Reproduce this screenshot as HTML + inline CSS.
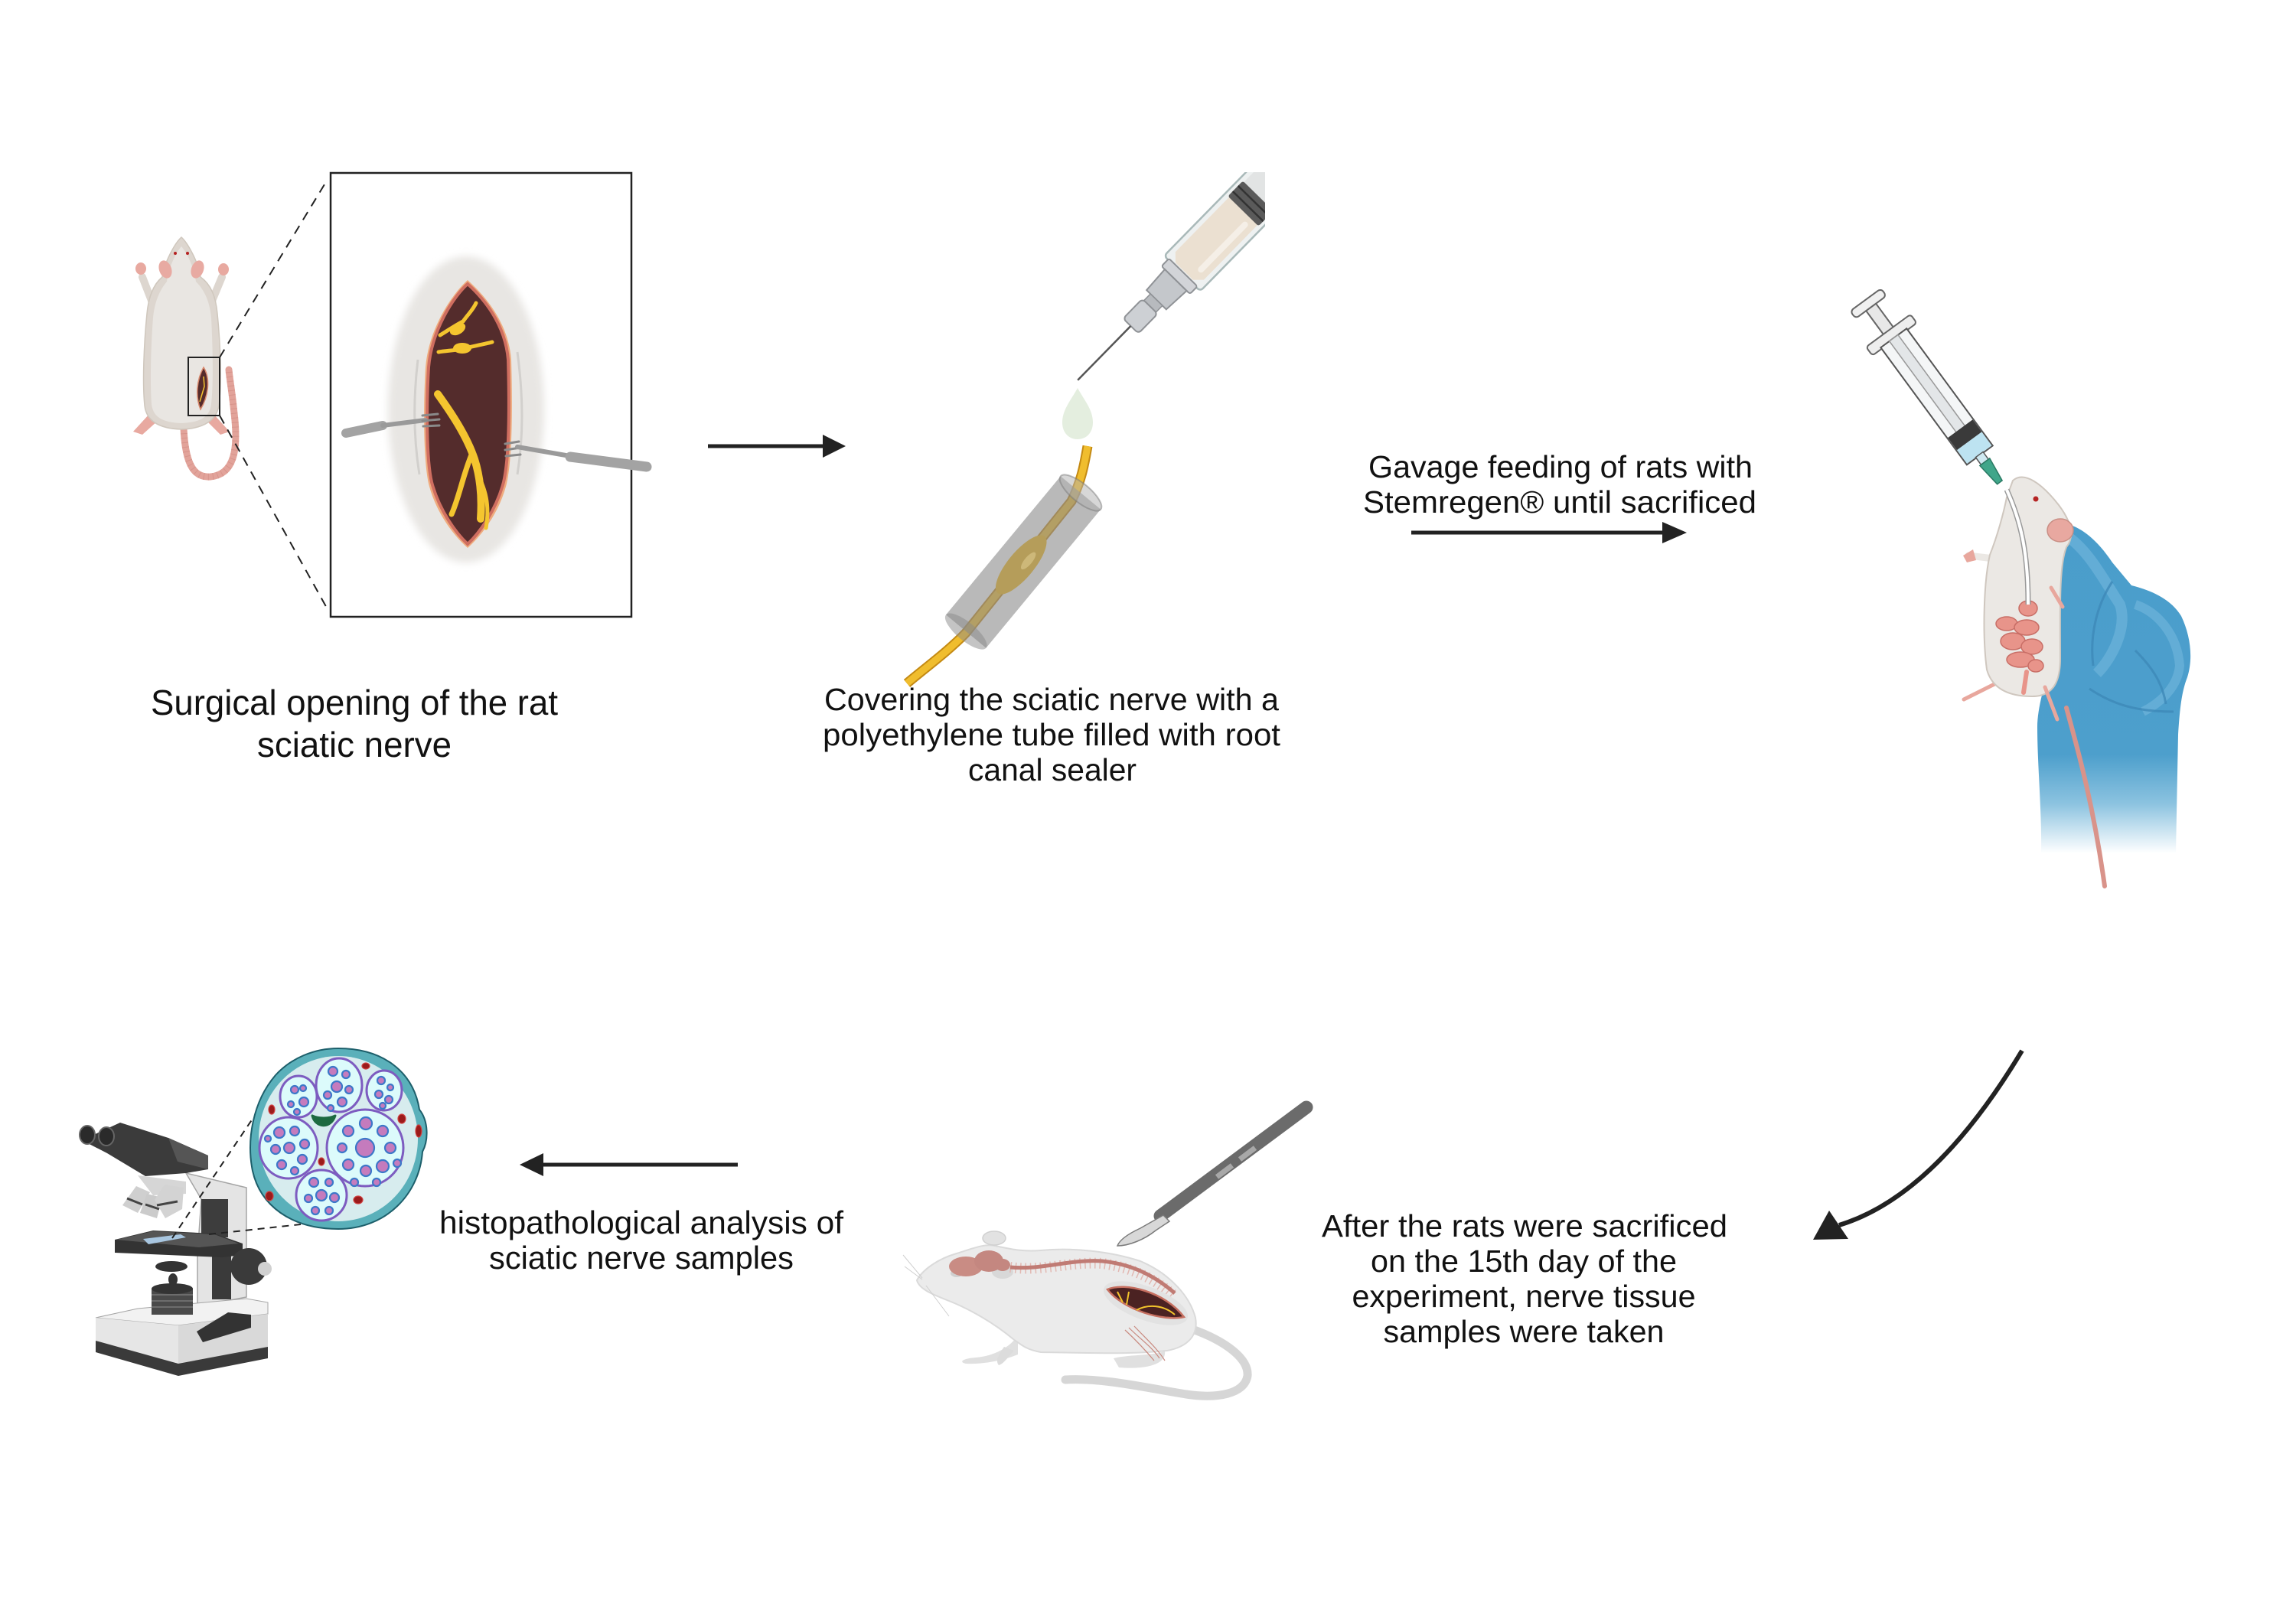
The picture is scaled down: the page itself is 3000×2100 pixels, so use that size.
<!DOCTYPE html>
<html><head><meta charset="utf-8">
<style>html,body{margin:0;padding:0;background:#fff}svg{display:block}</style>
</head><body>
<svg width="3000" height="2100" viewBox="0 0 3000 2100" xmlns="http://www.w3.org/2000/svg" font-family="'Liberation Sans', Arial, sans-serif">
<defs>
  <filter id="blur4" x="-20%" y="-20%" width="140%" height="140%"><feGaussianBlur stdDeviation="5"/></filter>
  <clipPath id="clipSyr"><rect x="0" y="225" width="1653" height="1900"/></clipPath>
  <linearGradient id="glove" x1="0" y1="685" x2="0" y2="1115" gradientUnits="userSpaceOnUse">
    <stop offset="0" stop-color="#4a9dcb"/>
    <stop offset="0.7" stop-color="#4d9fcc"/>
    <stop offset="0.85" stop-color="#8cc3e0"/>
    <stop offset="1" stop-color="#ffffff"/>
  </linearGradient>
</defs>
<rect width="3000" height="2100" fill="#fff"/>

<!-- ===== Panel 1: dorsal rat ===== -->
<g>
  <path d="M240,560 C242,600 250,625 275,623 C305,620 312,590 306,540 C303,510 300,495 299,483" fill="none" stroke="#e2a39a" stroke-width="9" stroke-linecap="round"/>
  <path d="M240,560 C242,600 250,625 275,623 C305,620 312,590 306,540 C303,510 300,495 299,483" fill="none" stroke="#d08a82" stroke-width="9" stroke-dasharray="1 5" opacity="0.6"/>
  <path d="M200,398 L186,362" stroke="#ddd6cf" stroke-width="10" stroke-linecap="round"/>
  <path d="M275,398 L290,362" stroke="#ddd6cf" stroke-width="10" stroke-linecap="round"/>
  <ellipse cx="184" cy="351" rx="7" ry="8" fill="#e8a9a0"/>
  <ellipse cx="292" cy="352" rx="7" ry="8" fill="#e8a9a0"/>
  <path d="M196,540 L174,564 L186,568 L206,550 Z" fill="#e8a9a0"/>
  <path d="M278,540 L300,564 L288,568 L270,550 Z" fill="#e8a9a0"/>
  <path d="M237,310 C228,318 214,345 212,362 C200,372 194,388 192,410 C188,450 186,500 189,530 C191,548 205,560 237,561 C268,560 283,548 286,530 C290,500 288,450 284,410 C282,388 276,372 262,362 C260,345 246,318 237,310 Z" fill="#ddd6cf" stroke="#cfc7bd" stroke-width="1.5"/>
  <path d="M237,322 C230,330 220,350 218,368 C208,380 202,395 200,415 C197,455 196,500 198,528 C200,545 212,552 237,553 C262,552 274,545 276,528 C279,500 278,455 276,415 C274,395 268,380 256,368 C254,350 244,330 237,322 Z" fill="#e9e6e2"/>
  <ellipse cx="216" cy="352" rx="8" ry="12" fill="#e8aaa2" transform="rotate(-20 216 352)"/>
  <ellipse cx="258" cy="352" rx="8" ry="12" fill="#e8aaa2" transform="rotate(20 258 352)"/>
  <circle cx="229" cy="331" r="2" fill="#b52020"/>
  <circle cx="245" cy="331" r="2" fill="#b52020"/>
  <path d="M266,480 C274,492 274,515 262,535 C255,518 257,496 266,480 Z" fill="#552b2b" stroke="#d98a6e" stroke-width="1.5"/>
  <path d="M266,492 L267,505 L261,525" stroke="#f4c52f" stroke-width="1.5" fill="none"/>
  <rect x="246" y="467" width="41" height="76" fill="none" stroke="#222" stroke-width="2"/>
</g>
<path d="M287,467 L427,236" stroke="#222" stroke-width="2" stroke-dasharray="12 9"/>
<path d="M287,543 L429,798" stroke="#222" stroke-width="2" stroke-dasharray="12 9"/>
<rect x="432" y="226" width="393" height="580" fill="#fff" stroke="#222" stroke-width="2.5"/>

<!-- wound -->
<ellipse cx="609" cy="535" rx="102" ry="200" fill="#e8e6e3" filter="url(#blur4)"/>
<path d="M546,470 C540,520 540,570 548,620" stroke="#d2d0cd" stroke-width="3" fill="none"/>
<path d="M676,460 C684,520 684,570 676,620" stroke="#d2d0cd" stroke-width="3" fill="none"/>
<path d="M611,366 C632,385 664,420 668,470 C670,540 669,600 662,632 C652,672 627,702 611,716 C595,702 570,672 560,632 C553,600 553,530 556,480 C560,430 590,385 611,366 Z" fill="#efab7e"/>
<path d="M611,371 C630,388 660,422 664,470 C666,540 665,600 658,630 C648,668 625,698 611,711 C597,698 574,668 564,630 C557,600 557,530 560,480 C564,432 592,388 611,371 Z" fill="#542c2c" stroke="#cf6e60" stroke-width="4"/>
<g stroke="#f4c52f" fill="none" stroke-linecap="round">
  <path d="M572,515 C590,540 610,570 620,600 C628,625 630,650 628,678" stroke-width="10"/>
  <path d="M617,592 C605,620 600,650 590,672" stroke-width="7"/>
  <path d="M622,615 C635,640 640,660 635,690" stroke-width="5"/>
  <path d="M575,438 C585,432 595,425 605,420 C612,410 618,405 622,396" stroke-width="5"/>
  <path d="M573,460 C585,458 597,458 607,455 C620,452 632,450 643,447" stroke-width="5"/>
</g>
<ellipse cx="598" cy="430" rx="11" ry="7" fill="#f4c52f" transform="rotate(-30 598 430)"/>
<ellipse cx="604" cy="455" rx="12" ry="7" fill="#f4c52f"/>
<!-- retractors -->
<g stroke-linecap="round" fill="none">
  <path d="M452,566 L500,556" stroke="#a3a3a3" stroke-width="12"/>
  <path d="M500,556 L556,549" stroke="#9a9a9a" stroke-width="6"/>
  <path d="M552,543 L572,541 M552,550 L574,548 M553,557 L574,556" stroke="#8a8a8a" stroke-width="3"/>
  <path d="M660,580 L678,577 M660,588 L680,585 M661,596 L680,594" stroke="#8a8a8a" stroke-width="3"/>
  <path d="M676,584 L745,596" stroke="#9a9a9a" stroke-width="6"/>
  <path d="M745,597 L845,610" stroke="#a3a3a3" stroke-width="13"/>
</g>

<!-- arrow 1 -->
<line x1="925" y1="583" x2="1078" y2="583" stroke="#222" stroke-width="5"/>
<polygon points="1075,568 1105,583 1075,598" fill="#222"/>

<text x="463" y="934" font-size="46" fill="#111" text-anchor="middle" textLength="532" lengthAdjust="spacingAndGlyphs">Surgical opening of the rat</text>
<text x="463" y="989" font-size="46" fill="#111" text-anchor="middle" textLength="254" lengthAdjust="spacingAndGlyphs">sciatic nerve</text>

<!-- ===== Panel 2: syringe + tube ===== -->
<g clip-path="url(#clipSyr)">
  <g transform="translate(1546,356) rotate(134.4)">
    <rect x="-320" y="-33" width="322" height="66" rx="5" fill="#eef1f1" stroke="#a9b9b9" stroke-width="2.5"/>
    <rect x="-320" y="-26" width="182" height="52" fill="#e2e4e4"/>
    <path d="M-113,-26 L-12,-26 L-2,-16 L-2,16 L-12,26 L-113,26 Z" fill="#ebe0d1"/>
    <rect x="-105" y="-18" width="90" height="8" rx="4" fill="#f5efe7"/>
    <rect x="-140" y="-28" width="28" height="56" rx="3" fill="#5a5a5a"/>
    <line x1="-131" y1="-28" x2="-131" y2="28" stroke="#333" stroke-width="2.5"/>
    <line x1="-121" y1="-28" x2="-121" y2="28" stroke="#333" stroke-width="2.5"/>
    <rect x="0" y="-26" width="14" height="52" rx="3" fill="#d2d4d8" stroke="#8f9296" stroke-width="2"/>
    <path d="M14,-20 L50,-18 L50,18 L14,20 Z" fill="#c4c7cb" stroke="#8f9296" stroke-width="2"/>
    <rect x="50" y="-11" width="12" height="22" fill="#b7babe" stroke="#8f9296" stroke-width="1.5"/>
    <rect x="62" y="-14" width="36" height="28" rx="5" fill="#cdd0d4" stroke="#8f9296" stroke-width="2"/>
    <line x1="98" y1="0" x2="197" y2="0" stroke="#555" stroke-width="2.5"/>
  </g>
</g>
<path d="M1408,507 C1400,522 1388,535 1388,552 C1388,566 1397,574 1408,574 C1419,574 1428,566 1428,552 C1428,535 1416,522 1408,507 Z" fill="#e4eedf"/>
<path d="M1421,583 C1416,612 1412,630 1400,655 L1262,827 C1240,850 1210,872 1185,893" stroke="#c48a14" stroke-width="13" fill="none"/>
<path d="M1421,583 C1416,612 1412,630 1400,655 L1262,827 C1240,850 1210,872 1185,893" stroke="#f0bd2e" stroke-width="9" fill="none"/>
<g transform="translate(1412,644) rotate(129.6)">
  <rect x="0" y="-34" width="235" height="68" fill="#8a8a8a" fill-opacity="0.6"/>
  <ellipse cx="122" cy="0" rx="48" ry="17" fill="#b59d5a"/>
  <ellipse cx="112" cy="-4" rx="14" ry="5" fill="#cdb879"/>
  <ellipse cx="0" cy="0" rx="12" ry="34" fill="#b0b0b0" fill-opacity="0.5" stroke="#7a7a7a" stroke-opacity="0.5" stroke-width="2"/>
  <ellipse cx="235" cy="0" rx="12" ry="34" fill="#8a8a8a" fill-opacity="0.5"/>
</g>
<text x="1374" y="928" font-size="41" fill="#111" text-anchor="middle" textLength="594" lengthAdjust="spacingAndGlyphs">Covering the sciatic nerve with a</text>
<text x="1374" y="974" font-size="41" fill="#111" text-anchor="middle" textLength="598" lengthAdjust="spacingAndGlyphs">polyethylene tube filled with root</text>
<text x="1375" y="1020" font-size="41" fill="#111" text-anchor="middle" textLength="220" lengthAdjust="spacingAndGlyphs">canal sealer</text>

<!-- ===== Gavage text + arrow ===== -->
<text x="2039" y="624" font-size="41" fill="#111" text-anchor="middle" textLength="502" lengthAdjust="spacingAndGlyphs">Gavage feeding of rats with</text>
<text x="2038" y="670" font-size="41" fill="#111" text-anchor="middle" textLength="514" lengthAdjust="spacingAndGlyphs">Stemregen® until sacrificed</text>
<line x1="1844" y1="696" x2="2175" y2="696" stroke="#222" stroke-width="5"/>
<polygon points="2172,682 2204,696 2172,710" fill="#222"/>

<!-- ===== Gavage figure ===== -->
<path d="M2702,685 C2720,690 2740,705 2760,735 L2785,765 C2805,770 2835,780 2850,805 C2862,830 2866,860 2858,885 C2850,905 2848,930 2846,960 L2843,1115 L2667,1115 C2668,1060 2662,1000 2662,950 C2662,920 2676,880 2686,845 C2680,810 2676,790 2676,760 C2676,730 2682,700 2702,685 Z" fill="url(#glove)"/>
<path d="M2700,700 C2730,720 2750,760 2770,790 C2780,820 2760,860 2740,880" fill="none" stroke="#6db3da" stroke-width="14" opacity="0.7"/>
<path d="M2790,790 C2820,800 2845,830 2848,870 C2845,900 2820,920 2800,930" fill="none" stroke="#6db3da" stroke-width="12" opacity="0.7"/>
<path d="M2760,760 C2740,790 2730,830 2735,870 M2790,850 C2810,870 2825,890 2830,920 M2730,900 C2760,920 2790,930 2840,930" fill="none" stroke="#3d88b8" stroke-width="3" opacity="0.8"/>
<path d="M2700,925 C2715,980 2735,1050 2750,1158" stroke="#d9938a" stroke-width="6" fill="none" stroke-linecap="round"/>
<path d="M2605,730 L2572,726" stroke="#ebe8e4" stroke-width="9" stroke-linecap="round"/>
<path d="M2578,718 L2565,726 L2570,735 L2582,732 Z" fill="#e8a79d"/>
<path d="M2608,893 L2566,914" stroke="#e8a79d" stroke-width="5" stroke-linecap="round"/>
<path d="M2630,628 C2645,615 2668,632 2690,660 C2705,680 2712,700 2700,715 C2690,740 2692,800 2692,860 C2692,895 2680,910 2655,910 C2625,910 2603,900 2596,875 C2590,830 2592,760 2600,725 C2610,700 2618,670 2622,650 Z" fill="#ebe8e4" stroke="#cfc7bf" stroke-width="2"/>
<ellipse cx="2692" cy="693" rx="17" ry="15" fill="#e8a8a0" stroke="#c98f85" stroke-width="1.5"/>
<circle cx="2660" cy="652" r="3.5" fill="#b52323"/>
<path d="M2680,768 L2695,793" stroke="#e8a79d" stroke-width="5" stroke-linecap="round"/>
<path d="M2672,898 L2688,940" stroke="#e8a79d" stroke-width="5" stroke-linecap="round"/>
<g fill="#e8948a" stroke="#c86e66" stroke-width="1.5">
  <ellipse cx="2650" cy="795" rx="12" ry="10"/>
  <ellipse cx="2622" cy="815" rx="14" ry="9"/>
  <ellipse cx="2648" cy="820" rx="16" ry="10"/>
  <ellipse cx="2630" cy="838" rx="16" ry="11"/>
  <ellipse cx="2655" cy="845" rx="14" ry="10"/>
  <ellipse cx="2640" cy="862" rx="18" ry="10"/>
  <ellipse cx="2660" cy="870" rx="10" ry="8"/>
</g>
<path d="M2648,878 L2644,905" stroke="#e8948a" stroke-width="6" stroke-linecap="round"/>
<path d="M2622,640 C2640,680 2650,720 2650,790" stroke="#999" stroke-width="7" fill="none"/>
<path d="M2622,640 C2640,680 2650,720 2650,790" stroke="#fff" stroke-width="4" fill="none"/>
<g transform="translate(2440,395) rotate(53.7)">
  <rect x="-4" y="-25" width="12" height="50" rx="5" fill="#f0f0f0" stroke="#666" stroke-width="2"/>
  <rect x="8" y="-8" width="40" height="16" fill="#e8e8e8" stroke="#666" stroke-width="2"/>
  <rect x="46" y="-36" width="14" height="72" rx="4" fill="#eee" stroke="#666" stroke-width="2"/>
  <rect x="58" y="-21" width="190" height="42" fill="#f4f6f7" stroke="#555" stroke-width="2"/>
  <rect x="58" y="-7" width="150" height="14" fill="#e3e6e8" stroke="#999" stroke-width="1.5"/>
  <rect x="205" y="-20" width="20" height="40" fill="#3a3a3a"/>
  <rect x="225" y="-20" width="22" height="40" fill="#bde3f1"/>
  <rect x="247" y="-6" width="12" height="12" fill="#cfe9f1" stroke="#555" stroke-width="1.5"/>
  <path d="M259,-8 L292,-4 L292,4 L259,8 Z" fill="#40a68a" stroke="#2a7a64" stroke-width="1.5"/>
</g>

<!-- ===== Curved arrow ===== -->
<path d="M2642,1373 Q2528,1563 2403,1601" stroke="#222" stroke-width="6" fill="none"/>
<polygon points="2369,1620 2390,1582 2415,1619" fill="#222"/>

<text x="1992" y="1616" font-size="41" fill="#111" text-anchor="middle" textLength="530" lengthAdjust="spacingAndGlyphs">After the rats were sacrificed</text>
<text x="1991" y="1662" font-size="41" fill="#111" text-anchor="middle" textLength="400" lengthAdjust="spacingAndGlyphs">on the 15th day of the</text>
<text x="1991" y="1708" font-size="41" fill="#111" text-anchor="middle" textLength="449" lengthAdjust="spacingAndGlyphs">experiment, nerve tissue</text>
<text x="1991" y="1754" font-size="41" fill="#111" text-anchor="middle" textLength="367" lengthAdjust="spacingAndGlyphs">samples were taken</text>

<!-- ===== Lateral rat + scalpel ===== -->
<path d="M1558,1737 C1600,1752 1632,1775 1630,1798 C1626,1822 1590,1828 1550,1822 C1500,1814 1440,1800 1392,1803" stroke="#d6d6d6" stroke-width="11" fill="none" stroke-linecap="round"/>
<path d="M1330,1745 C1320,1760 1300,1772 1275,1774 C1258,1775 1252,1780 1262,1782 C1285,1783 1310,1778 1330,1770 Z" fill="#e0e0e0"/>
<path d="M1312,1760 C1305,1770 1300,1778 1305,1784 C1312,1782 1318,1772 1325,1765 Z" fill="#dcdcdc"/>
<path d="M1455,1775 C1475,1770 1500,1772 1522,1766 C1524,1782 1500,1790 1462,1787 Z" fill="#e0e0e0"/>
<path d="M1198,1673 C1205,1660 1225,1645 1250,1638 C1270,1632 1285,1625 1300,1628 C1320,1632 1335,1636 1360,1634 C1400,1630 1450,1635 1490,1648 C1530,1665 1555,1695 1562,1722 C1566,1745 1552,1760 1525,1765 C1480,1770 1420,1768 1360,1767 C1342,1764 1335,1758 1324,1750 C1300,1730 1270,1712 1240,1700 C1220,1692 1201,1685 1198,1673 Z" fill="#ebebeb" stroke="#dadada" stroke-width="2"/>
<ellipse cx="1299" cy="1618" rx="15" ry="9" fill="#e2e2e2" stroke="#d0d0d0" stroke-width="1.5"/>
<ellipse cx="1310" cy="1662" rx="14" ry="9" fill="#d8d8d8"/>
<ellipse cx="1250" cy="1664" rx="8" ry="5" fill="#cfcfcf"/>
<path d="M1320,1656 C1360,1662 1400,1648 1440,1651 C1480,1656 1510,1672 1535,1694" stroke="#e2b8b2" stroke-width="14" stroke-dasharray="1.5 5" fill="none"/>
<path d="M1320,1656 C1360,1660 1400,1645 1440,1648 C1480,1652 1510,1668 1535,1690" stroke="#c07b74" stroke-width="5" fill="none"/>
<ellipse cx="1262" cy="1655" rx="22" ry="13" fill="#c98c84"/>
<ellipse cx="1292" cy="1648" rx="19" ry="14" fill="#c48780"/>
<ellipse cx="1310" cy="1653" rx="10" ry="8" fill="#c48780"/>
<ellipse cx="1497" cy="1703" rx="58" ry="22" fill="#e2e2e2" transform="rotate(20 1497 1703)"/>
<path d="M1447,1685 C1470,1675 1522,1688 1547,1721 C1520,1727 1468,1712 1447,1685 Z" fill="#4b2222" stroke="#c66f60" stroke-width="2.5"/>
<path d="M1460,1688 L1467,1702 M1475,1688 L1472,1705 M1485,1712 C1500,1704 1520,1705 1535,1718" stroke="#f2c32c" stroke-width="2" fill="none"/>
<path d="M1475,1735 C1490,1750 1505,1760 1515,1775 M1482,1733 C1498,1750 1512,1762 1522,1778 M1470,1738 C1485,1752 1498,1766 1508,1778" stroke="#c98a80" stroke-width="1.2" fill="none"/>
<path d="M1205,1670 L1180,1640 M1205,1672 L1182,1655 M1210,1680 L1240,1720" stroke="#cfcfcf" stroke-width="1" fill="none"/>
<path d="M1707,1447 L1516,1589" stroke="#6b6b6b" stroke-width="17" stroke-linecap="round"/>
<path d="M1640,1500 L1620,1515 M1610,1523 L1590,1538" stroke="#a8a8a8" stroke-width="7"/>
<path d="M1520,1588 L1490,1605 C1475,1612 1463,1620 1460,1628 C1475,1628 1495,1620 1510,1608 L1528,1596 Z" fill="#d8d8d8" stroke="#7a7a7a" stroke-width="1.5"/>

<!-- ===== Histopath arrow + text ===== -->
<line x1="708" y1="1522" x2="964" y2="1522" stroke="#222" stroke-width="5"/>
<polygon points="710,1507 679,1522 710,1537" fill="#222"/>
<text x="838" y="1612" font-size="42" fill="#111" text-anchor="middle" textLength="528" lengthAdjust="spacingAndGlyphs">histopathological analysis of</text>
<text x="838" y="1658" font-size="42" fill="#111" text-anchor="middle" textLength="398" lengthAdjust="spacingAndGlyphs">sciatic nerve samples</text>

<!-- ===== Microscope ===== -->
<g>
  <polygon points="243,1533 322,1552 322,1695 258,1707 258,1640 263,1567" fill="#e4e4e4" stroke="#a5a5a5" stroke-width="1.5"/>
  <rect x="263" y="1567" width="35" height="50" fill="#3d3d3d"/>
  <polygon points="125,1722 180,1710 322,1697 350,1702 350,1717 233,1732" fill="#f2f2f2" stroke="#a5a5a5" stroke-width="1"/>
  <polygon points="125,1722 233,1732 233,1795 125,1755" fill="#e6e6e6"/>
  <polygon points="233,1732 350,1717 350,1773 233,1795" fill="#d9d9d9"/>
  <polygon points="125,1752 233,1782 350,1760 350,1775 233,1798 125,1767" fill="#3a3a3a"/>
  <polygon points="257,1740 298,1715 328,1718 328,1735 265,1754" fill="#333"/>
  <rect x="198" y="1684" width="54" height="34" fill="#4a4a4a"/>
  <path d="M198,1692 H252 M198,1700 H252 M198,1708 H252" stroke="#777" stroke-width="1.5"/>
  <ellipse cx="225" cy="1684" rx="27" ry="7" fill="#333"/>
  <ellipse cx="226" cy="1672" rx="6" ry="8" fill="#333"/>
  <ellipse cx="224" cy="1655" rx="21" ry="7" fill="#333"/>
  <rect x="277" y="1640" width="25" height="58" fill="#3a3a3a"/>
  <polygon points="150,1620 200,1608 280,1612 317,1625 317,1640 290,1643 150,1637" fill="#333"/>
  <polygon points="152,1620 200,1609 280,1613 312,1625 260,1630" fill="#555"/>
  <polygon points="187,1619 236,1613 243,1617 194,1626" fill="#a8c6e0"/>
  <circle cx="325" cy="1655" r="24" fill="#3a3a3a"/>
  <circle cx="346" cy="1658" r="9" fill="#d0d0d0"/>
  <polygon points="157,1467 220,1487 272,1510 272,1528 243,1533 190,1537 140,1507 107,1490" fill="#3b3b3b"/>
  <polygon points="220,1487 272,1510 272,1528 232,1518" fill="#555"/>
  <ellipse cx="114" cy="1483" rx="10" ry="12" fill="#2a2a2a" stroke="#666" stroke-width="2"/>
  <ellipse cx="139" cy="1485" rx="10" ry="12" fill="#2a2a2a" stroke="#666" stroke-width="2"/>
  <polygon points="180,1536 243,1544 243,1560 200,1562" fill="#d6d6d6"/>
  <polygon points="160,1575 178,1550 196,1558 180,1585" fill="#cfcfcf"/>
  <polygon points="183,1585 192,1560 212,1565 205,1592" fill="#cbcbcb"/>
  <polygon points="202,1568 215,1548 240,1552 238,1580 216,1592" fill="#d3d3d3"/>
  <path d="M166,1566 L186,1574 M190,1574 L208,1580 M205,1575 L232,1570" stroke="#444" stroke-width="3"/>
</g>
<path d="M225,1618 L330,1462" stroke="#222" stroke-width="2" stroke-dasharray="9 7"/>
<path d="M273,1613 L393,1600" stroke="#222" stroke-width="2" stroke-dasharray="9 7"/>

<!-- cross-section -->
<g>
  <path d="M442,1370 C500,1370 540,1400 548,1450 C560,1465 560,1490 552,1505 C548,1560 505,1606 442,1606 C380,1606 340,1575 330,1530 C322,1490 330,1440 360,1405 C380,1383 410,1370 442,1370 Z" fill="#5ab0ba" stroke="#1d5f6b" stroke-width="2"/>
  <ellipse cx="442" cy="1488" rx="104" ry="108" fill="#d7ecee"/>
  <g fill="#dcfbfb" stroke="#7d5cc0" stroke-width="3">
    <ellipse cx="390" cy="1433" rx="24" ry="27"/>
    <ellipse cx="443" cy="1418" rx="30" ry="35"/>
    <ellipse cx="502" cy="1425" rx="23" ry="26"/>
    <ellipse cx="377" cy="1500" rx="38" ry="40"/>
    <ellipse cx="477" cy="1500" rx="50" ry="50"/>
    <ellipse cx="420" cy="1562" rx="33" ry="33"/>
  </g>
  <g fill="#c57bbd" stroke="#3c78c9" stroke-width="2.2">
    <circle cx="385" cy="1424" r="5"/><circle cx="397" cy="1440" r="6"/><circle cx="380" cy="1443" r="4"/><circle cx="396" cy="1422" r="4"/><circle cx="388" cy="1453" r="4"/>
    <circle cx="435" cy="1400" r="6"/><circle cx="452" cy="1404" r="5"/><circle cx="440" cy="1420" r="7"/><circle cx="456" cy="1424" r="5"/><circle cx="428" cy="1431" r="5"/><circle cx="447" cy="1440" r="6"/><circle cx="432" cy="1448" r="4"/>
    <circle cx="498" cy="1412" r="5"/><circle cx="510" cy="1421" r="4"/><circle cx="495" cy="1430" r="5"/><circle cx="508" cy="1437" r="5"/><circle cx="500" cy="1445" r="4"/>
    <circle cx="365" cy="1480" r="7"/><circle cx="385" cy="1478" r="6"/><circle cx="398" cy="1495" r="6"/><circle cx="360" cy="1502" r="6"/><circle cx="378" cy="1500" r="7"/><circle cx="395" cy="1515" r="6"/><circle cx="368" cy="1522" r="6"/><circle cx="385" cy="1530" r="5"/><circle cx="350" cy="1488" r="4"/>
    <circle cx="477" cy="1500" r="12"/><circle cx="455" cy="1478" r="7"/><circle cx="478" cy="1468" r="8"/><circle cx="500" cy="1478" r="7"/><circle cx="510" cy="1500" r="7"/><circle cx="500" cy="1524" r="8"/><circle cx="478" cy="1530" r="7"/><circle cx="455" cy="1522" r="7"/><circle cx="447" cy="1500" r="6"/><circle cx="463" cy="1545" r="5"/><circle cx="492" cy="1545" r="5"/><circle cx="519" cy="1520" r="5"/>
    <circle cx="410" cy="1545" r="6"/><circle cx="430" cy="1545" r="5"/><circle cx="420" cy="1562" r="7"/><circle cx="403" cy="1566" r="5"/><circle cx="437" cy="1565" r="6"/><circle cx="412" cy="1582" r="5"/><circle cx="430" cy="1582" r="5"/>
  </g>
  <g fill="#9b1b1b" stroke="#d04040" stroke-width="1.2">
    <ellipse cx="478" cy="1393" rx="5" ry="4"/>
    <ellipse cx="355" cy="1450" rx="4" ry="6"/>
    <ellipse cx="525" cy="1462" rx="5" ry="6"/>
    <ellipse cx="547" cy="1478" rx="4" ry="8"/>
    <ellipse cx="420" cy="1518" rx="4" ry="5"/>
    <ellipse cx="352" cy="1563" rx="5" ry="6"/>
    <ellipse cx="468" cy="1568" rx="6" ry="5"/>
  </g>
  <path d="M408,1458 C412,1474 432,1476 438,1458 C430,1462 416,1462 408,1458 Z" fill="#1d6a40" stroke="#1d6a40" stroke-width="3" stroke-linejoin="round"/>
</g>
</svg>
</body></html>
